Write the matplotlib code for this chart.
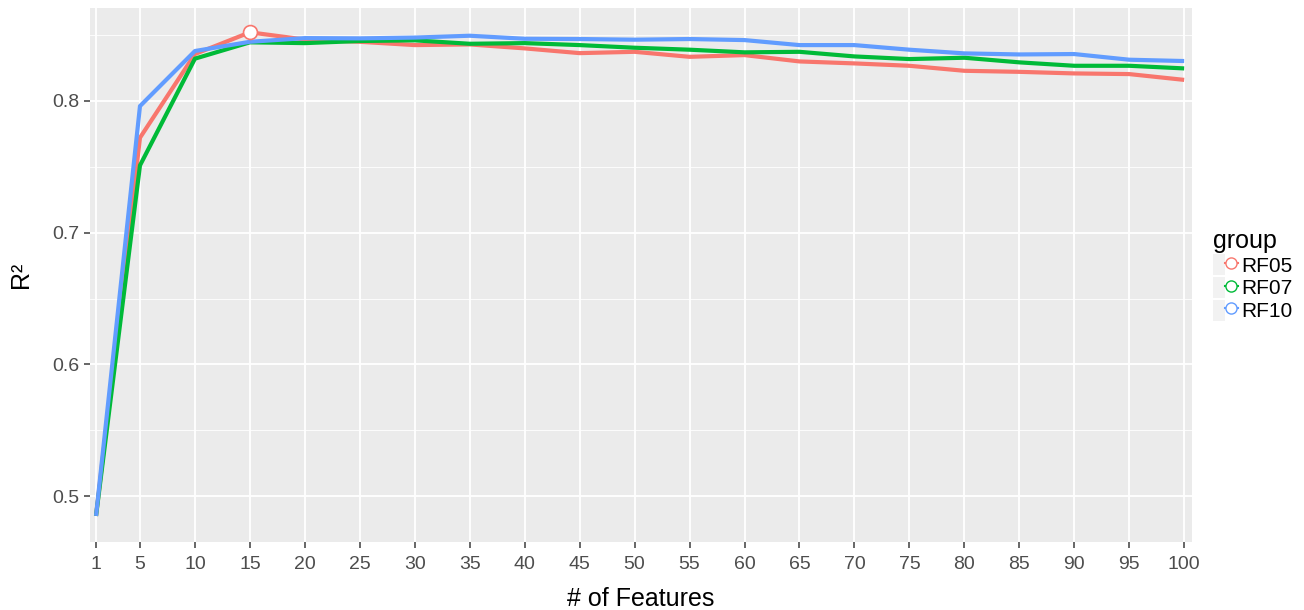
import numpy as np
import matplotlib.pyplot as plt
from matplotlib.lines import Line2D
from matplotlib.patches import Rectangle
from matplotlib.legend_handler import HandlerTuple

plt.rcParams['font.family'] = ['Liberation Sans', 'DejaVu Sans']

# Daten
n_features = [1, 5, 10, 15, 20, 25, 30, 35, 40, 45, 50, 55, 60, 65, 70, 75, 80, 85, 90, 95, 100]
rf05 = [0.485, 0.772, 0.8355, 0.852, 0.8465, 0.8448, 0.8423, 0.8428, 0.8398, 0.8362, 0.8372,
        0.8334, 0.8347, 0.8299, 0.8284, 0.8266, 0.8228, 0.8220, 0.8208, 0.8203, 0.8159]
rf07 = [0.485, 0.751, 0.8320, 0.8444, 0.8438, 0.8454, 0.8459, 0.8433, 0.8438, 0.8423, 0.8403,
        0.8388, 0.8368, 0.8372, 0.8337, 0.8317, 0.8327, 0.8292, 0.8266, 0.8266, 0.8246]
rf10 = [0.485, 0.796, 0.8378, 0.8448, 0.8476, 0.8474, 0.8480, 0.8494, 0.8471, 0.8469, 0.8464,
        0.8469, 0.8461, 0.8423, 0.8423, 0.8388, 0.8360, 0.8352, 0.8355, 0.8312, 0.8302]
groups = ['RF05', 'RF07', 'RF10']
colors = ['#F8766D', '#00BA38', '#619CFF']

fig = plt.figure(figsize=(13.04, 6.10), dpi=100)
ax = fig.add_axes([0.069, 0.111, 0.845, 0.876])
ax.set_facecolor('#EBEBEB')
for s in ax.spines.values():
    s.set_visible(False)

ax.set_yticks([0.55, 0.65, 0.75, 0.85], minor=True)
ax.grid(which='major', color='white', lw=1.3, zorder=0)
ax.grid(which='minor', axis='y', color='white', lw=0.6, zorder=0)
ax.set_axisbelow(True)

for vals, c in zip([rf05, rf07, rf10], colors):
    ax.plot(n_features, vals, color=c, lw=3, solid_capstyle='butt', zorder=2)

# Maximum von RF05 markieren
i_max = int(np.argmax(rf05))
ax.plot(n_features[i_max], rf05[i_max], 'o', ms=10, mfc='white', mec=colors[0], mew=1.2, zorder=3)

ax.set_xlim(0.45, 100.7)
ax.set_ylim(0.465, 0.8705)
ax.set_xticks(n_features)
ax.set_yticks([0.5, 0.6, 0.7, 0.8])
ax.set_yticklabels(['0.5', '0.6', '0.7', '0.8'])
ax.tick_params(axis='both', which='major', colors='#4D4D4D', labelsize=14, length=4, width=1.2)
ax.tick_params(axis='x', which='major', pad=6)
ax.tick_params(axis='both', which='minor', length=0)
for lab in ax.get_xticklabels() + ax.get_yticklabels():
    lab.set_color('#4D4D4D')

ax.set_xlabel('# of Features', fontsize=18, labelpad=10)
ax.set_ylabel('R²', fontsize=18, labelpad=14)

handles = []
for c in colors:
    box = Rectangle((0, 0), 1, 1, facecolor='#F2F2F2', edgecolor='none')
    ln = Line2D([], [], color=c, lw=1.5, marker='o', ms=8, mfc='white', mec=c)
    handles.append((box, ln))
leg = ax.legend(handles, groups, title='group', loc='center left', bbox_to_anchor=(1.0, 0.5),
                frameon=False, fontsize=15, title_fontsize=18, handlelength=1.2, handleheight=1.2,
                handletextpad=0.15, labelspacing=0.05, borderaxespad=0.6,
                handler_map={tuple: HandlerTuple(ndivide=None, pad=0)})
leg._legend_box.align = 'left'

fig.savefig('out.png', dpi=100)
